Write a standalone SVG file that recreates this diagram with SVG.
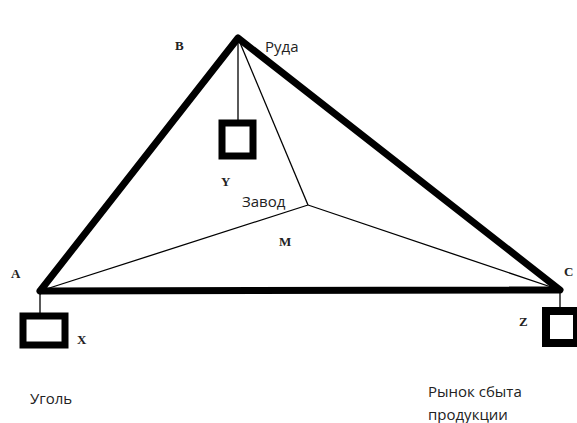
<svg xmlns="http://www.w3.org/2000/svg" width="577" height="423" viewBox="0 0 577 423">
<style>
.thick{stroke:#000;stroke-width:7;fill:none;stroke-linecap:round;stroke-linejoin:round}
.thin{stroke:#000;stroke-width:1.3;fill:none}
.box{stroke:#000;stroke-width:7;fill:#fff}
.ser{font-family:"Liberation Serif",serif;font-weight:bold;font-size:13px;fill:#222}
.san{font-family:"Open Sans","DejaVu Sans",sans-serif;font-size:15px;fill:#222}
</style>
<rect width="577" height="423" fill="#fff"/>
<g id="connectors">
<line class="thin" x1="238" y1="38" x2="308" y2="205"/>
<line class="thin" x1="40" y1="291" x2="308" y2="205"/>
<line class="thin" x1="560" y1="290" x2="308" y2="205"/>
<line class="thin" x1="238" y1="38" x2="238" y2="122"/>
<line class="thin" x1="40" y1="291" x2="40" y2="315"/>
<line class="thin" x1="560" y1="290" x2="560" y2="310"/>
<polyline class="thick" points="40,291 238,38 560,290 40,291"/>
</g>
<g id="node-B"><text class="ser" x="175" y="50">B</text><text class="san" x="265" y="52">Руда</text></g>
<g id="node-Y"><rect class="box" x="222" y="123" width="31" height="33"/><text class="ser" x="221" y="186">Y</text></g>
<g id="node-M"><text class="san" x="242" y="207">Завод</text><text class="ser" x="279" y="246">M</text></g>
<g id="node-A"><text class="ser" x="11" y="278">A</text><text class="san" x="30" y="404">Уголь</text></g>
<g id="node-X"><rect class="box" x="23" y="316" width="42" height="29"/><text class="ser" x="77" y="344">X</text></g>
<g id="node-C"><text class="ser" x="564" y="276">C</text></g>
<g id="node-Z"><rect class="box" x="546" y="311" width="31" height="32" style="stroke-width:8"/><text class="ser" x="519" y="326">Z</text><text class="san" x="428" y="397">Рынок сбыта</text><text class="san" x="428" y="420">продукции</text></g>
</svg>
